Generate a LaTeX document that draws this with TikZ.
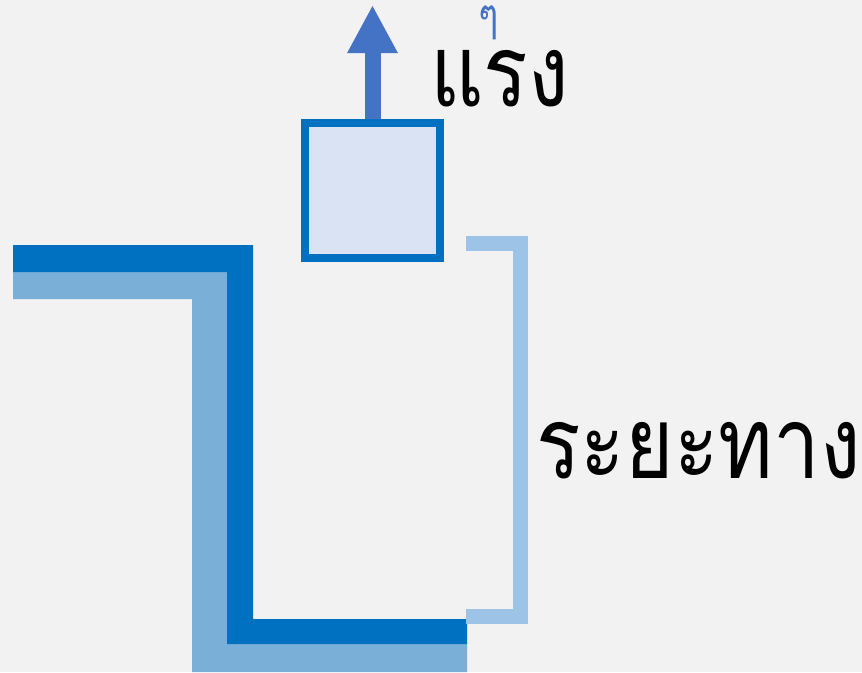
\documentclass[tikz,border=0pt]{standalone}
\usepackage{fontspec}
\newfontfamily\thaifont[Script=Thai, FakeStretch=0.83]{Loma}
\usetikzlibrary{arrows.meta, positioning}
\definecolor{canvas}{HTML}{F2F2F2}
\definecolor{deep}{HTML}{0070C0}
\definecolor{deepsoft}{HTML}{7AB0D8}
\definecolor{span}{HTML}{9DC3E6}
\definecolor{boxfill}{HTML}{DAE3F3}
\definecolor{push}{HTML}{4472C4}
\tikzset{
  block/.style={draw=deep, line width=8pt, fill=boxfill, minimum size=135pt,
                inner sep=0pt},
  force/.style={draw=push, line width=16pt, -{Triangle[length=48pt, width=47pt]}},
  spanline/.style={draw=span, line width=15pt},
  lbl/.style={font=\thaifont\fontsize{100}{120}\selectfont, text=black, inner sep=0pt},
  glyph/.style={font=\thaifont\fontsize{46}{56}\selectfont, text=push, inner sep=0pt},
}
\begin{document}
\begin{tikzpicture}[x=1pt, y=-1pt]
\useasboundingbox[fill=canvas] (0,0) rectangle (862,672);

% ---------------------------------------------------------------- steps
\fill[deepsoft] (13,272) -- (227,272) -- (227,644) -- (467,644) -- (467,672)
  -- (192,672) -- (192,299) -- (13,299) -- cycle;
\fill[deep] (13,245) -- (253,245) -- (253,619) -- (467,619) -- (467,644)
  -- (227,644) -- (227,272) -- (13,272) -- cycle;

% ---------------------------------------------------------------- load
\node[block] (load) at (372.5,190.5) {};
\coordinate (tip) at (372.5,5);
\draw[force] (load.north) -- (tip);
\node[lbl, anchor=base] (forcelbl) at (499.5,106) {แรง};
\node[glyph, anchor=base] (forcemark) at (489,31) {ๆ};

% ---------------------------------------------------------------- distance
\draw[spanline] (466,243.5) -- (520,243.5) -- (520,616.5) -- (466,616.5);
\node[lbl, anchor=base] (distlbl) at (698.5,478) {ระยะทาง};

\end{tikzpicture}
\end{document}
